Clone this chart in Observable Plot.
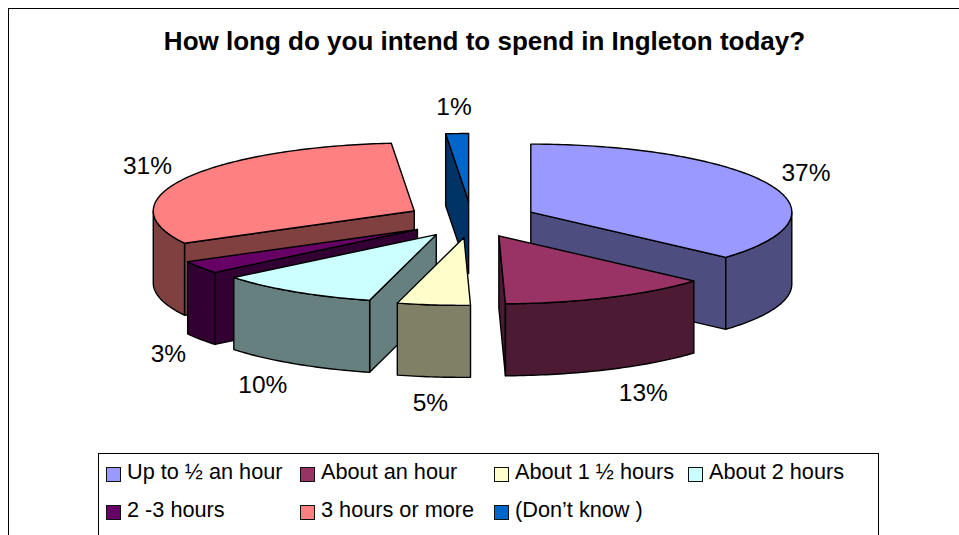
<!DOCTYPE html>
<html>
<head>
<meta charset="utf-8">
<script src="https://cdn.jsdelivr.net/npm/d3@7"></script>
<script src="https://cdn.jsdelivr.net/npm/@observablehq/plot@0.6"></script>
<style>
html,body{margin:0;padding:0;background:#fff;overflow:hidden}
#root{position:relative;width:959px;height:535px;font-family:"Liberation Sans",Arial,sans-serif;color:#000}
#root svg{position:absolute;left:0;top:0;background:transparent}
#frame{position:absolute;left:8px;top:8px;width:960px;height:540px;border:1.5px solid #000;box-sizing:border-box}
#title{position:absolute;left:0;width:969px;top:25.5px;text-align:center;font-weight:bold;font-size:26px;line-height:30px;white-space:nowrap}
#legend{position:absolute;left:98px;top:453px;width:781px;height:90px;border:1.5px solid #000;box-sizing:border-box;background:#fff}
.sw{position:absolute;width:15px;height:15px;border:1.5px solid #111;box-sizing:border-box}
.lt{position:absolute;font-size:21.7px;line-height:24px;white-space:nowrap}
</style>
</head>
<body>
<div id="root">
<div id="frame"></div>
<div id="title">How long do you intend to spend in Ingleton today?</div>
<div id="legend"></div>
</div>
<script>
const categories = ["Up to ½ an hour","About an hour","About 1 ½ hours","About 2 hours","2 -3 hours","3 hours or more","(Don’t know )"];
const shares = [36.5,13,4.5,10,3,31.4,1.4];
const topColors = ["#9999FF","#993366","#FFFFCC","#CCFFFF","#660066","#FF8080","#0066CC"];
const sideColors = ["#4D4D80","#4D1A33","#808066","#668080","#330033","#804040","#003366"];
const paintOrder = [6,5,4,3,0,1,2];

// 3-D pie geometry
const cx=471, cy=219, rx=261, ry=68, depth=72, ex=65, ey=18;
const rad=d=>d*Math.PI/180;
const total=d3.sum(shares);
let acc=0;
const slices=shares.map((v,i)=>{
  const a0=acc/total*360; acc+=v; const a1=acc/total*360; const mid=(a0+a1)/2;
  return {i,v,a0,a1,mid,
    ox:cx+ex*Math.sin(rad(mid)),
    oy:cy-ey*Math.cos(rad(mid))};
});
const rim=(s,a,dz=0)=>({x:s.ox+rx*Math.sin(rad(a)),y:s.oy-ry*Math.cos(rad(a))+dz});
const arc=(s,a,b,dz=0)=>{const n=Math.max(1,Math.ceil(Math.abs(b-a)));return d3.range(n+1).map(k=>rim(s,a+(b-a)*k/n,dz));};
const rows=[];let fid=0;
const push=(pts,color)=>{fid++;[...pts,pts[0]].forEach(p=>rows.push({x:p.x,y:p.y,color,face:fid}));};
for(const k of paintOrder){
  const s=slices[k];
  const o={x:s.ox,y:s.oy}, o2={x:s.ox,y:s.oy+depth};
  // visible radial cut
  if(s.a0>180){push([o,rim(s,s.a0),rim(s,s.a0,depth),o2],sideColors[k]);}
  if(s.a1<180){push([o,rim(s,s.a1),rim(s,s.a1,depth),o2],sideColors[k]);}
  // outer wall, front half only
  const lo=Math.max(s.a0,90),hi=Math.min(s.a1,270);
  if(hi>lo) push([...arc(s,lo,hi),...arc(s,hi,lo,depth)],sideColors[k]);
  // top face
  push([o,...arc(s,s.a0,s.a1)],topColors[k]);
}
const labels=slices.map(s=>{
  const sn=Math.sin(rad(s.mid)),cs=Math.cos(rad(s.mid));
  const p=rim(s,s.mid,cs<0?depth:0);
  return {text:Math.round(s.v)+"%",
    x:p.x+37*Math.max(-1,Math.min(1,sn*1.9))+(cs<0?5:0),
    y:p.y-26*cs};
});
const chart=Plot.plot({
  width:959,height:535,margin:0,
  x:{domain:[0,959],range:[0,959],axis:null},
  y:{domain:[0,535],range:[0,535],axis:null},
  color:{type:"identity"},
  marks:[
    Plot.line(rows,{x:"x",y:"y",z:"face",fill:"color",stroke:"#000",strokeWidth:1.4,strokeLinejoin:"round",curve:"linear"}),
    Plot.text(labels,{x:"x",y:"y",text:"text",fontSize:24.5,fontFamily:"Liberation Sans",fill:"#000"})
  ]
});
chart.style.background="transparent";
document.getElementById("root").appendChild(chart);
const lg=document.getElementById("legend");
const colX=[6.5,200.5,394.5,588.5], swatchY=[12.5,50.5], textY=[6,43.5];
const cell=[[0,0],[1,0],[2,0],[3,0],[0,1],[1,1],[2,1]];
categories.forEach((c,i)=>{
  const [cl,r]=cell[i];
  const sw=document.createElement("div");sw.className="sw";
  sw.style.cssText=`left:${colX[cl]}px;top:${swatchY[r]}px;background:${topColors[i]}`;
  lg.appendChild(sw);
  const t=document.createElement("div");t.className="lt";
  t.textContent=c;
  t.style.cssText=`left:${colX[cl]+21.5}px;top:${textY[r]}px`;
  lg.appendChild(t);
});
</script>
</body>
</html>
